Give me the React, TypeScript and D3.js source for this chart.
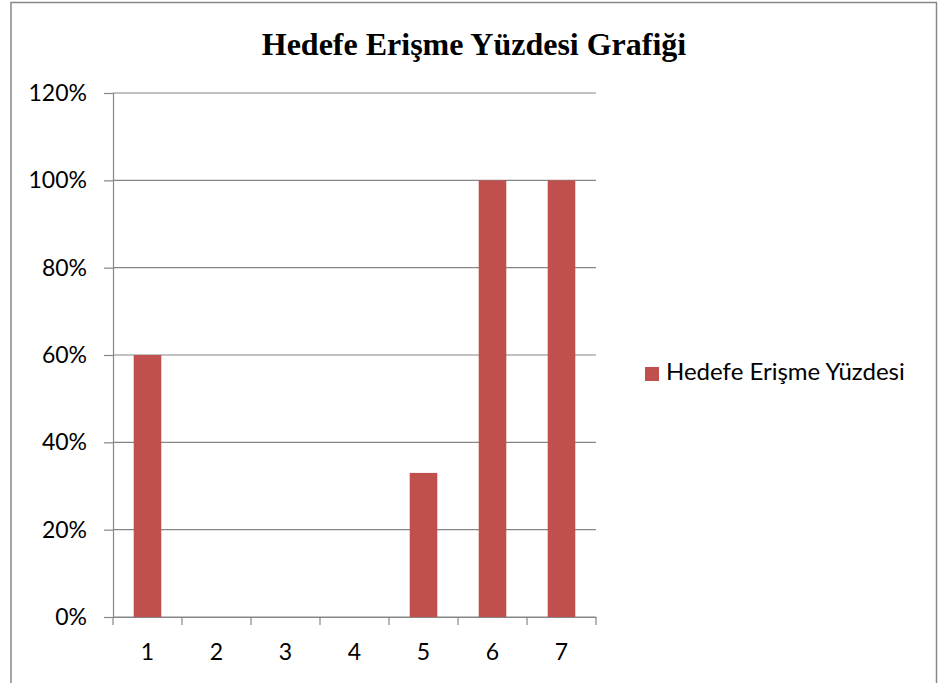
import React, { useEffect, useRef } from 'react'
import * as d3 from 'd3'

const title = 'Hedefe Erişme Yüzdesi Grafiği'
const seriesName = 'Hedefe Erişme Yüzdesi'
const categories = ['1', '2', '3', '4', '5', '6', '7']
const values = [0.6, 0, 0, 0, 0.33, 1, 1]
const yTicks = [0, 0.2, 0.4, 0.6, 0.8, 1, 1.2]

export default function App() {
    const ref = useRef<SVGSVGElement>(null)
    const width = 939
    const height = 683
    const margin = { top: 93, right: 343, bottom: 66, left: 113 }
    const color = '#C0504D'
    const font = 'Lato, "Open Sans", sans-serif'

    useEffect(() => {
        const svg = d3.select(ref.current)
        svg.selectAll('*').remove()

        // chart frame
        svg.append('rect')
            .attr('x', 11).attr('y', 2.5)
            .attr('width', 925.5).attr('height', 700)
            .attr('fill', 'white')
            .attr('stroke', '#888').attr('stroke-width', 1.5)

        const x = d3.scaleBand()
            .domain(categories)
            .range([margin.left, width - margin.right])
            .paddingInner(0.6).paddingOuter(0.3)

        const y = d3.scaleLinear()
            .domain([0, 1.2])
            .range([height - margin.bottom, margin.top])

        // gridlines
        svg.append('g')
            .selectAll('line')
            .data(yTicks)
            .join('line')
            .attr('x1', margin.left).attr('x2', width - margin.right)
            .attr('y1', d => y(d)).attr('y2', d => y(d))
            .attr('stroke', '#868686').attr('stroke-width', 1.2)

        // bars
        svg.append('g')
            .selectAll('rect')
            .data(values)
            .join('rect')
            .attr('x', (d, i) => x(categories[i])!)
            .attr('width', x.bandwidth())
            .attr('y', d => y(d))
            .attr('height', d => y(0) - y(d))
            .attr('fill', color)

        const yAxis = g => g
            .attr('transform', `translate(${margin.left},0)`)
            .call(d3.axisLeft(y).tickValues(yTicks).tickFormat(d3.format('.0%')).tickSize(9).tickPadding(17))
            .call(g => g.selectAll('line, path').attr('stroke', '#868686').attr('stroke-width', 1.2))
            .call(g => g.selectAll('text').attr('font-size', 23).attr('fill', '#000')
                .attr('font-family', font))

        const catWidth = (width - margin.right - margin.left) / categories.length
        const edges = d3.range(categories.length + 1).map(i => margin.left + i * catWidth)

        const xAxis = g => g
            .attr('transform', `translate(0,${height - margin.bottom})`)
            .call(d3.axisBottom(x).tickSize(0).tickPadding(27))
            .call(g => g.select('.domain').attr('stroke', '#868686').attr('stroke-width', 1.2))
            .call(g => g.selectAll('text').attr('font-size', 23).attr('fill', '#000')
                .attr('font-family', font))
            .call(g => g.selectAll('.edge')
                .data(edges)
                .join('line')
                .attr('class', 'edge')
                .attr('x1', d => d).attr('x2', d => d)
                .attr('y1', 0).attr('y2', 8)
                .attr('stroke', '#868686').attr('stroke-width', 1.2))

        svg.append('g').call(xAxis)
        svg.append('g').call(yAxis)

        // title
        svg.append('text')
            .attr('x', 474).attr('y', 55)
            .attr('text-anchor', 'middle')
            .attr('font-family', '"Liberation Serif", "Times New Roman", serif')
            .attr('font-weight', 'bold')
            .attr('font-size', 32)
            .text(title)

        // legend
        const legend = svg.append('g').attr('transform', 'translate(645,367)')
        legend.append('rect').attr('width', 14).attr('height', 14).attr('fill', color)
        legend.append('text')
            .attr('x', 21).attr('y', 13)
            .attr('font-family', font)
            .attr('font-size', 24)
            .text(seriesName)
    }, [])

    return (
        <div>
            <svg ref={ref} width={width} height={height}
                style={{ position: 'absolute', left: 0, top: 0 }}></svg>
        </div>
    )
}
